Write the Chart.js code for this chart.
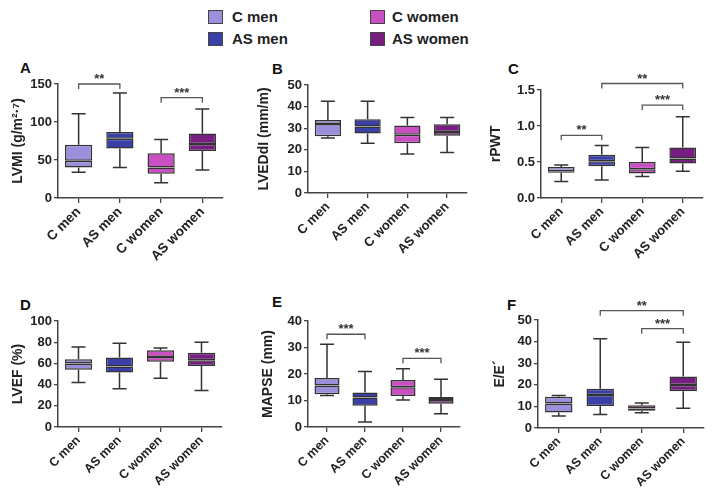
<!DOCTYPE html>
<html><head><meta charset="utf-8">
<script src="https://cdn.jsdelivr.net/npm/chart.js@4.4.0/dist/chart.umd.min.js"></script>
<style>
body{margin:0;background:#fff;width:716px;height:500px;position:relative;overflow:hidden;font-family:"Liberation Sans",Arial,sans-serif;}
canvas{position:absolute;}
.pl{position:absolute;font-weight:bold;font-size:15px;line-height:15px;color:#111;}
.lg{position:absolute;font-weight:bold;font-size:15px;line-height:15px;color:#222;}
.sw{position:absolute;width:13px;height:12px;border:1px solid #444;}
</style></head><body>
<div class="sw" style="left:208px;top:10px;background:#9a8fda"></div><div class="lg" style="left:232px;top:9px">C men</div>
<div class="sw" style="left:208px;top:32px;background:#3a40a8"></div><div class="lg" style="left:232px;top:31px">AS men</div>
<div class="sw" style="left:370px;top:10px;background:#c94fc3"></div><div class="lg" style="left:392px;top:9px">C women</div>
<div class="sw" style="left:370px;top:32px;background:#761f80"></div><div class="lg" style="left:392px;top:31px">AS women</div>
<div class="pl" style="left:20px;top:60px">A</div>
<div class="pl" style="left:272px;top:61px">B</div>
<div class="pl" style="left:508px;top:61px">C</div>
<div class="pl" style="left:20px;top:297px">D</div>
<div class="pl" style="left:272px;top:294px">E</div>
<div class="pl" style="left:507px;top:297px">F</div>
<canvas id="cA" width="236" height="245" style="left:0;top:55px"></canvas>
<canvas id="cB" width="236" height="245" style="left:240px;top:55px"></canvas>
<canvas id="cC" width="240" height="245" style="left:476px;top:55px"></canvas>
<canvas id="cD" width="236" height="215" style="left:0;top:285px"></canvas>
<canvas id="cE" width="236" height="215" style="left:240px;top:285px"></canvas>
<canvas id="cF" width="240" height="215" style="left:476px;top:285px"></canvas>
<script>
// categories
const categories = ['C men', 'AS men', 'C women', 'AS women'];
// box stats per group: [min, Q1, median, Q3, max]
const lvmi  = [[34,40,49,70,111],[40,65,78,87,138],[20,32,40,59,77],[37,62,71,85,117]];
const lvedd = [[25.5,26.3,32,33.8,42.5],[23,27.5,30.8,34.2,42.5],[18,23,27,31.2,35],[18.8,26.5,28.2,31.8,35]];
const rpwt  = [[0.23,0.35,0.37,0.43,0.46],[0.25,0.44,0.51,0.6,0.73],[0.3,0.34,0.4,0.5,0.7],[0.37,0.48,0.55,0.7,1.13]];
const lvef  = [[42,54,60,64,75.5],[36,51.5,57,65.5,79],[46,61.5,66,72.5,74.5],[34.5,57.5,63,70,80]];
const mapse = [[11.9,12.4,15.7,18.5,31.2],[1.9,8,11.1,13,20.9],[10.2,11.7,15,17.7,22],[5,8.8,10.2,11.3,18]];
const ee    = [[5.6,7.2,11.3,14.5,15],[6.2,10.2,15.3,18.2,41.3],[7.1,8,9,10.5,11.6],[9.1,17,19.9,23.8,39.7]];
// significance brackets: [fromIndex, toIndex, value, label]
const lvmiSig  = [[0,1,150,'**'],[2,3,132,'***']];
const rpwtSig  = [[0,1,0.87,'**'],[1,3,1.59,'**'],[2,3,1.29,'***']];
const mapseSig = [[0,1,35,'***'],[2,3,25.9,'***']];
const eeSig    = [[1,3,54.3,'**'],[2,3,46,'***']];

const boxColors = ['#9a8fda', '#3a40a8', '#c94fc3', '#761f80'];
const FONT = '"Liberation Sans", Arial, sans-serif';

const boxPlugin = {
  id: 'boxExtras',
  afterDatasetsDraw(chart, args, opts) {
    const ctx = chart.ctx, xs = chart.scales.x, ys = chart.scales.y;
    const stats = opts.stats, sig = opts.sig || [];
    ctx.save();
    ctx.strokeStyle = '#333';
    ctx.lineWidth = 1.5;
    stats.forEach((s, i) => {
      const x = xs.getPixelForValue(i);
      const cap = 7;
      ctx.beginPath();
      ctx.moveTo(x, ys.getPixelForValue(s[0])); ctx.lineTo(x, ys.getPixelForValue(s[1]));
      ctx.moveTo(x, ys.getPixelForValue(s[3])); ctx.lineTo(x, ys.getPixelForValue(s[4]));
      ctx.moveTo(x - cap, ys.getPixelForValue(s[0])); ctx.lineTo(x + cap, ys.getPixelForValue(s[0]));
      ctx.moveTo(x - cap, ys.getPixelForValue(s[4])); ctx.lineTo(x + cap, ys.getPixelForValue(s[4]));
      ctx.stroke();
    });
    ctx.strokeStyle = '#555';
    ctx.lineWidth = 1.3;
    ctx.fillStyle = '#333';
    ctx.font = 'bold 13px ' + FONT;
    ctx.textAlign = 'center';
    ctx.textBaseline = 'alphabetic';
    sig.forEach(g => {
      const x1 = xs.getPixelForValue(g[0]), x2 = xs.getPixelForValue(g[1]);
      const y = ys.getPixelForValue(g[2]);
      ctx.beginPath();
      ctx.moveTo(x1, y + 5); ctx.lineTo(x1, y); ctx.lineTo(x2, y); ctx.lineTo(x2, y + 5);
      ctx.stroke();
      ctx.fillText(g[3], (x1 + x2) / 2, y - 1);
    });
    ctx.restore();
  }
};

function makeChart(id, stats, sig, yMax, step, title, dec, g) {
  const tickFont = {family: FONT, weight: 'bold', size: 13};
  return new Chart(document.getElementById(id), {
    type: 'bar',
    data: {
      labels: categories,
      datasets: [
        {data: stats.map(s => [s[1], s[2]]), backgroundColor: boxColors, borderColor: '#333', borderWidth: 1.5, borderSkipped: false, grouped: false, barPercentage: 0.66, categoryPercentage: 1},
        {data: stats.map(s => [s[2], s[3]]), backgroundColor: boxColors, borderColor: '#333', borderWidth: 1.5, borderSkipped: false, grouped: false, barPercentage: 0.66, categoryPercentage: 1}
      ]
    },
    options: {
      responsive: false,
      animation: false,
      devicePixelRatio: 1,
      layout: {padding: {left: 0, top: g.top, right: g.right, bottom: 0}},
      plugins: {legend: {display: false}, tooltip: {enabled: false}, boxExtras: {stats: stats, sig: sig}},
      scales: {
        x: {
          offset: true,
          grid: {display: true, drawOnChartArea: false, drawTicks: true, tickLength: 5, offset: false, color: '#444', lineWidth: 1.3},
          border: {display: true, color: '#444', width: 1.5},
          ticks: {color: '#222', font: {family: FONT, weight: 'bold', size: g.cat}, minRotation: 45, maxRotation: 45, padding: 1},
          afterFit: s => { s.height = g.xh; }
        },
        y: {
          min: 0, max: yMax,
          grid: {display: true, drawOnChartArea: false, drawTicks: true, tickLength: 4, color: '#444', lineWidth: 1.3},
          border: {display: true, color: '#444', width: 1.5},
          ticks: {stepSize: step, color: '#222', font: tickFont, padding: 2,
                  callback: v => dec ? v.toFixed(dec) : v},
          title: {display: true, text: title, color: '#222', font: {family: FONT, weight: 'bold', size: 14}, padding: {top: g.tp, bottom: 0}},
          afterFit: s => { s.width = g.yw; }
        }
      }
    },
    plugins: [boxPlugin]
  });
}

makeChart('cA', lvmi,  lvmiSig,  150, 50, 'LVMI (g/m²·⁷)', 0, {top: 29, right: 13, xh: 102, yw: 58, tp: 10, cat: 13.5});
makeChart('cB', lvedd, [],        50, 10, 'LVEDdI (mm/m)', 0, {top: 30, right: 9,  xh: 107, yw: 68, tp: 16, cat: 13});
makeChart('cC', rpwt,  rpwtSig,  1.5, 0.5, 'rPWT', 1,         {top: 35, right: 13, xh: 102, yw: 65, tp: 12, cat: 13});
makeChart('cD', lvef,  [],       100, 20, 'LVEF (%)', 0,       {top: 36, right: 14, xh: 73,  yw: 58, tp: 10, cat: 12.5});
makeChart('cE', mapse, mapseSig,  40, 10, 'MAPSE (mm)', 0,     {top: 36, right: 16, xh: 73,  yw: 68, tp: 20, cat: 12.5});
makeChart('cF', ee,    eeSig,     50, 10, 'E/E´', 0,           {top: 35, right: 12, xh: 72,  yw: 62, tp: 16, cat: 12.5});
</script>
</body></html>
